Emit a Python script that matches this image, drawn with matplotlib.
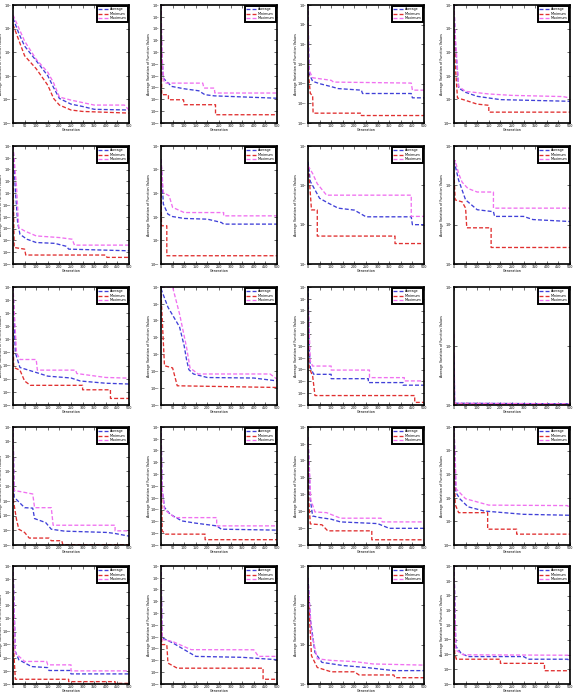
import numpy as np
import matplotlib
matplotlib.use("Agg")
import matplotlib.pyplot as plt
from matplotlib.ticker import LogLocator, NullLocator

# Bottom exponent and number of decades of each panel (row by row)
Y_LO = [-2, -6, -4, -1,
        -6, -1, 0, 0,
        -5, -3, -6, 0,
        -4, -6, -3, -1,
        -5, -6, 0, -4]
Y_DEC = [5, 10, 6, 5,
         10, 5, 3, 3,
         9, 7, 10, 2,
         8, 10, 7, 5,
         9, 10, 3, 8]

# (generation, decades above the bottom of the axis)
AVG = [
    [(0, 4.44), (25, 3.8), (50, 3.26), (100, 2.64), (150, 2.0), (175, 1.5), (200, 1.04), (250, 0.8), (300, 0.7), (350, 0.58), (500, 0.55)],
    [(0, 10), (3, 6), (10, 3.8), (17, 3.66), (46, 3.1), (100, 2.9), (163, 2.73), (189, 2.4), (230, 2.3), (500, 2.1)],
    [(0, 6), (3, 3.5), (5, 2.5), (20, 2.12), (50, 2.0), (100, 1.85), (130, 1.75), (230, 1.67), (235, 1.5), (445, 1.5), (450, 1.28), (500, 1.28)],
    [(0, 5), (5, 3.5), (20, 1.48), (50, 1.3), (100, 1.13), (200, 0.99), (500, 0.92)],
    [(0, 10), (10, 6.3), (20, 3.5), (30, 2.52), (60, 2.1), (100, 1.82), (180, 1.75), (230, 1.5), (240, 1.26), (500, 1.12)],
    [(0, 4.44), (10, 2.54), (30, 2.11), (50, 2.01), (100, 1.93), (200, 1.9), (260, 1.76), (270, 1.69), (500, 1.69)],
    [(0, 2.6), (10, 2.1), (50, 1.67), (90, 1.54), (130, 1.42), (200, 1.37), (250, 1.2), (445, 1.2), (450, 1.0), (500, 1.0)],
    [(0, 2.63), (20, 2.13), (50, 1.63), (100, 1.38), (170, 1.33), (175, 1.21), (300, 1.21), (340, 1.13), (500, 1.08)],
    [(0, 9), (10, 4.0), (30, 2.86), (100, 2.48), (150, 2.2), (250, 2.06), (290, 1.83), (400, 1.66), (500, 1.6)],
    [(0, 6.9), (30, 5.8), (80, 4.63), (100, 3.5), (110, 2.7), (120, 2.1), (140, 1.84), (200, 1.63), (400, 1.6), (500, 1.43)],
    [(0, 10), (5, 4.97), (10, 3.16), (25, 2.6), (100, 2.6), (100, 2.23), (260, 2.23), (260, 1.9), (410, 1.9), (410, 1.68), (500, 1.68)],
    [(0, 0.85), (3, 0.03), (500, 0.02)],
    [(0, 8), (5, 3.24), (50, 2.53), (85, 2.5), (93, 1.79), (141, 1.52), (165, 1.07), (222, 0.94), (407, 0.85), (440, 0.78), (500, 0.6)],
    [(0, 10), (5, 4.72), (15, 3.18), (40, 2.6), (90, 2.04), (150, 1.85), (240, 1.62), (260, 1.34), (500, 1.26)],
    [(0, 6.4), (10, 2.7), (20, 1.72), (50, 1.63), (100, 1.53), (140, 1.37), (300, 1.27), (350, 0.99), (500, 0.99)],
    [(0, 5), (8, 2.23), (25, 1.96), (60, 1.62), (130, 1.44), (300, 1.3), (500, 1.26)],
    [(0, 9), (10, 2.48), (25, 1.85), (80, 1.33), (150, 1.25), (155, 1.03), (245, 1.03), (250, 0.77), (500, 0.77)],
    [(0, 10), (5, 3.91), (50, 3.49), (150, 2.34), (350, 2.26), (500, 2.06)],
    [(0, 2.7), (10, 1.65), (30, 0.8), (60, 0.55), (150, 0.47), (250, 0.42), (370, 0.34), (500, 0.34)],
    [(0, 8), (8, 2.55), (30, 2.1), (60, 1.86), (300, 1.86), (320, 1.68), (490, 1.68), (500, 1.52)],
]

MIN = [
    [(0, 4.17), (50, 2.85), (100, 2.3), (150, 1.6), (175, 1.04), (200, 0.76), (250, 0.55), (300, 0.49), (500, 0.42)],
    [(0, 9.5), (3, 2.4), (32, 2.4), (32, 1.97), (97, 1.97), (100, 1.55), (235, 1.55), (235, 0.7), (500, 0.7)],
    [(0, 5), (2, 2.5), (10, 1.5), (20, 1.4), (22, 0.5), (230, 0.5), (230, 0.38), (500, 0.38)],
    [(0, 4.5), (5, 2.5), (15, 1.06), (40, 0.99), (100, 0.8), (150, 0.75), (150, 0.46), (500, 0.46)],
    [(0, 8), (5, 1.4), (50, 1.26), (55, 0.76), (400, 0.76), (405, 0.56), (500, 0.56)],
    [(0, 4.0), (2, 1.62), (25, 1.62), (25, 0.35), (500, 0.35)],
    [(0, 2.46), (8, 1.96), (15, 1.375), (40, 1.375), (40, 0.71), (375, 0.71), (375, 0.52), (500, 0.52)],
    [(0, 2.3), (5, 1.63), (35, 1.58), (50, 1.42), (55, 0.92), (160, 0.92), (160, 0.42), (500, 0.42)],
    [(0, 6), (3, 2.86), (30, 2.66), (50, 1.83), (75, 1.5), (300, 1.5), (300, 1.16), (420, 1.16), (420, 0.5), (500, 0.5)],
    [(0, 6.6), (15, 2.33), (50, 2.2), (70, 1.14), (500, 1.04)],
    [(0, 6), (5, 3.16), (20, 2.46), (30, 0.8), (460, 0.8), (460, 0.22), (500, 0.22)],
    [(0, 0.15), (3, 0.02), (500, 0.01)],
    [(0, 6), (2, 3.0), (15, 1.74), (25, 1.07), (50, 0.85), (70, 0.47), (155, 0.47), (165, 0.29), (210, 0.29), (215, 0.02), (500, 0.02)],
    [(0, 7), (5, 1.2), (20, 0.92), (190, 0.92), (190, 0.45), (500, 0.45)],
    [(0, 5), (3, 2.7), (10, 1.25), (60, 1.2), (85, 0.84), (275, 0.84), (275, 0.31), (500, 0.31)],
    [(0, 4), (5, 1.72), (20, 1.37), (145, 1.37), (145, 0.67), (270, 0.67), (270, 0.46), (500, 0.46)],
    [(0, 7), (3, 2.6), (10, 0.36), (240, 0.36), (240, 0.18), (440, 0.18), (440, 0.05), (500, 0.05)],
    [(0, 8), (3, 3.34), (25, 3.34), (30, 1.77), (70, 1.34), (440, 1.34), (440, 0.4), (500, 0.4)],
    [(0, 2.3), (3, 2.08), (15, 0.72), (40, 0.42), (100, 0.31), (200, 0.31), (220, 0.23), (370, 0.23), (375, 0.16), (500, 0.16)],
    [(0, 6), (3, 2.1), (10, 1.68), (200, 1.68), (200, 1.4), (390, 1.4), (390, 0.9), (500, 0.9)],
]

MAX = [
    [(0, 4.58), (50, 3.47), (100, 2.7), (150, 2.15), (175, 1.7), (200, 1.1), (250, 0.97), (350, 0.76), (480, 0.76), (500, 0.55)],
    [(0, 10), (5, 5.5), (12, 3.6), (18, 3.38), (180, 3.38), (185, 2.96), (230, 2.96), (232, 2.54), (500, 2.54)],
    [(0, 6), (3, 3.2), (5, 2.67), (20, 2.3), (100, 2.17), (110, 2.08), (445, 2.03), (450, 1.67), (500, 1.67)],
    [(0, 5), (5, 3.8), (20, 1.55), (50, 1.34), (150, 1.23), (250, 1.17), (470, 1.12), (500, 1.06)],
    [(0, 10), (15, 6.6), (25, 3.08), (50, 2.8), (100, 2.38), (200, 2.24), (255, 2.1), (265, 1.6), (500, 1.6)],
    [(0, 4.44), (10, 3.03), (35, 2.89), (50, 2.4), (100, 2.18), (270, 2.18), (270, 2.04), (500, 2.04)],
    [(0, 2.5), (20, 2.3), (40, 2.04), (80, 1.75), (445, 1.75), (445, 1.21), (500, 1.21)],
    [(0, 2.55), (5, 2.63), (20, 2.3), (35, 2.08), (60, 1.92), (100, 1.83), (170, 1.83), (170, 1.42), (500, 1.42)],
    [(0, 9), (15, 4.0), (30, 3.47), (100, 3.47), (105, 2.66), (270, 2.66), (275, 2.4), (400, 2.1), (500, 2.05)],
    [(0, 7.0), (50, 7.0), (80, 5.4), (110, 3.43), (125, 2.2), (160, 1.84), (470, 1.84), (500, 1.53)],
    [(0, 9.1), (10, 3.72), (20, 3.3), (100, 3.3), (100, 2.96), (265, 2.96), (265, 2.32), (415, 2.32), (415, 2.04), (500, 2.04)],
    [(0, 1.2), (3, 0.03), (500, 0.02)],
    [(0, 8), (5, 3.7), (85, 3.46), (93, 2.53), (165, 2.53), (173, 1.34), (440, 1.34), (440, 0.96), (500, 0.96)],
    [(0, 10), (5, 4.8), (15, 3.0), (60, 2.32), (240, 2.32), (240, 1.62), (500, 1.62)],
    [(0, 6.4), (12, 2.7), (30, 1.96), (80, 1.92), (140, 1.59), (315, 1.59), (320, 1.37), (500, 1.37)],
    [(0, 5), (10, 2.37), (50, 1.96), (150, 1.69), (490, 1.67), (500, 1.5)],
    [(0, 9), (10, 2.36), (50, 1.72), (145, 1.72), (150, 1.46), (250, 1.46), (250, 1.0), (500, 1.0)],
    [(0, 10), (5, 3.77), (50, 3.6), (130, 2.91), (400, 2.9), (420, 2.34), (500, 2.34)],
    [(0, 2.67), (15, 1.31), (40, 0.64), (100, 0.6), (200, 0.57), (280, 0.51), (500, 0.48)],
    [(0, 8), (8, 2.3), (40, 1.98), (500, 1.95)],
]

SERIES = [("Average", AVG, "#4040d8"),
          ("Minimum", MIN, "#e03030"),
          ("Maximum", MAX, "#f070f0")]
X_TICKS = np.arange(0, 501, 50)

                                    # Figure and panel layout (pixels)
#---------------------------------------------------------------------------------------------------
W, H = 575, 695
fig = plt.figure(figsize=(W / 100, H / 100), dpi=100)
col_left = [13, 161, 308, 454]
row_top = [5, 146, 287, 427, 566]
ax_w, ax_h = 116, 118
fs = 2.4

for i in range(20):
    r, c = divmod(i, 4)
    ax = fig.add_axes([col_left[c] / W, 1 - (row_top[r] + ax_h) / H, ax_w / W, ax_h / H])
    lo, dec = Y_LO[i], Y_DEC[i]

    for name, data, color in SERIES:
        g = [p[0] for p in data[i]]
        v = [10.0 ** (lo + p[1]) for p in data[i]]
        ax.semilogy(g, v, linestyle=(0, (3, 1.6)), color=color, linewidth=0.95, label=name)

    ax.set_xlim(0, 500)
    ax.set_ylim(10.0 ** lo, 10.0 ** (lo + dec))
    ax.set_xticks(X_TICKS)
    ax.yaxis.set_major_locator(LogLocator(base=10, numticks=20))
    ax.yaxis.set_minor_locator(NullLocator())
    ax.tick_params(axis="both", which="major", direction="in", top=True, right=True,
                   labelsize=fs, length=2, width=0.4, pad=0.8)
    for sp in ax.spines.values():
        sp.set_linewidth(1.2)
    ax.set_xlabel("Generation", fontsize=fs, labelpad=0.2)
    ax.set_ylabel("Average Variation of Function Values", fontsize=fs)
    ax.yaxis.set_label_coords(-0.085, 0.5)

    leg = ax.legend(loc="upper right", fontsize=fs, fancybox=False, framealpha=1,
                    edgecolor="black", handlelength=3.0, borderpad=0.4,
                    labelspacing=0.15, borderaxespad=0.3, handletextpad=0.5)
    leg.get_frame().set_linewidth(1.4)

fig.savefig("out.png", dpi=100)
